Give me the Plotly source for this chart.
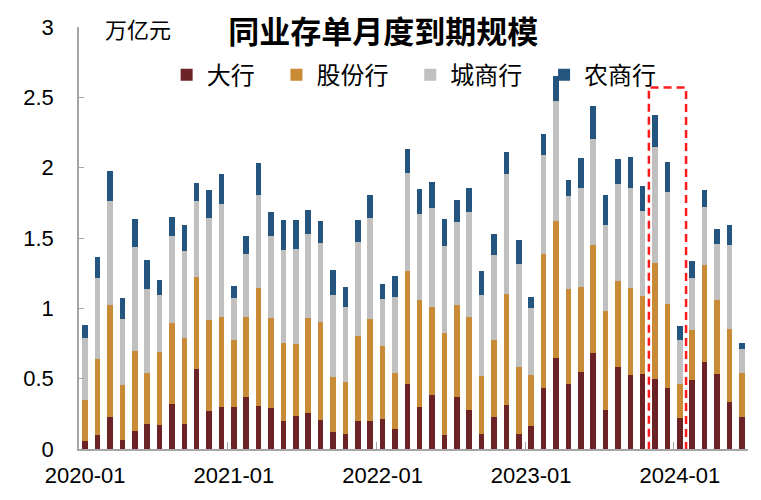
import numpy as np
import pandas as pd
import plotly.graph_objects as go

# categories: monthly, 2020-01 .. 2024-06
months = [p.strftime("%Y-%m") for p in pd.period_range("2020-01", "2024-06", freq="M")]

# 万亿元
big = [0.057, 0.100, 0.228, 0.064, 0.128, 0.181, 0.169, 0.323, 0.181, 0.572, 0.270, 0.297,
       0.297, 0.370, 0.309, 0.292, 0.202, 0.235, 0.256, 0.209, 0.119, 0.107, 0.199, 0.202,
       0.216, 0.142, 0.462, 0.297, 0.382, 0.097, 0.370, 0.275, 0.104, 0.228, 0.316, 0.104,
       0.166, 0.437, 0.650, 0.460, 0.546, 0.683, 0.280, 0.581, 0.526, 0.533, 0.500, 0.432,
       0.220, 0.493, 0.621, 0.531, 0.337, 0.228]
joint = [0.292, 0.540, 0.794, 0.389, 0.567, 0.360, 0.521, 0.576, 0.608, 0.651, 0.645, 0.644,
         0.481, 0.567, 0.836, 0.640, 0.555, 0.510, 0.678, 0.692, 0.393, 0.367, 0.605, 0.725,
         0.514, 0.401, 0.804, 0.761, 0.624, 0.728, 0.657, 0.662, 0.413, 0.550, 0.789, 0.477,
         0.363, 0.946, 0.972, 0.678, 0.604, 0.768, 0.701, 0.612, 0.617, 0.553, 0.823, 0.597,
         0.245, 0.353, 0.688, 0.527, 0.516, 0.313]
city = [0.443, 0.574, 0.742, 0.472, 0.740, 0.600, 0.408, 0.612, 0.622, 0.539, 0.726, 0.799,
        0.294, 0.450, 0.664, 0.579, 0.661, 0.675, 0.598, 0.564, 0.583, 0.532, 0.671, 0.712,
        0.337, 0.538, 0.693, 0.613, 0.706, 0.617, 0.590, 0.751, 0.578, 0.600, 0.851, 0.735,
        0.472, 0.704, 0.853, 0.664, 0.709, 0.752, 0.608, 0.692, 0.716, 0.604, 0.821, 0.799,
        0.313, 0.373, 0.410, 0.398, 0.594, 0.168]
rural = [0.090, 0.149, 0.211, 0.147, 0.197, 0.201, 0.102, 0.139, 0.182, 0.130, 0.197, 0.214,
         0.085, 0.126, 0.223, 0.172, 0.211, 0.209, 0.164, 0.159, 0.178, 0.149, 0.152, 0.170,
         0.109, 0.149, 0.173, 0.174, 0.183, 0.190, 0.152, 0.166, 0.171, 0.147, 0.152, 0.171,
         0.083, 0.151, 0.180, 0.109, 0.213, 0.234, 0.215, 0.178, 0.218, 0.178, 0.227, 0.213,
         0.095, 0.114, 0.123, 0.107, 0.142, 0.043]

series_names = ["大行", "股份行", "城商行", "农商行"]
series_values = [big, joint, city, rural]
colors = ["#6B2326", "#C98B36", "#C0C0C0", "#24557F"]

tick_months = ["2020-01", "2021-01", "2022-01", "2023-01", "2024-01"]
highlight = ["2023-11", "2024-01"]
highlight_top = 2.57

x = np.arange(len(months))
FONT = "Liberation Sans, Arial, Noto Sans CJK SC"
AXIS_GRAY = "#A6A6A6"
PAD = "\u2002\u2009"  # extra spacing between legend entries

fig = go.Figure()
for i, (name, vals, col) in enumerate(zip(series_names, series_values, colors)):
    label = name + (PAD if i < len(series_names) - 1 else "")
    fig.add_trace(go.Bar(x=x, y=vals, name=label, marker=dict(color=col, line=dict(width=0)),
                         width=0.45))

tickvals = [months.index(m) for m in tick_months]
minor_vals = [v - 0.5 for v in tickvals[1:]]

fig.update_layout(
    barmode="stack",
    width=761, height=500,
    margin=dict(l=71, r=21, t=19, b=59, autoexpand=False),
    paper_bgcolor="white", plot_bgcolor="white",
    font=dict(family=FONT, size=22, color="black"),
    title=dict(text="<b>同业存单月度到期规模</b>", x=0.493, xanchor="center",
               y=0.951, yanchor="middle", xref="container", yref="container",
               font=dict(family="Noto Sans CJK SC", size=31, color="black")),
    legend=dict(orientation="h", x=0.131, y=0.886, xanchor="left", yanchor="middle",
                bgcolor="rgba(0,0,0,0)", font=dict(family="Noto Sans CJK SC", size=24),
                traceorder="normal", itemclick=False),
    showlegend=True,
)
fig.update_xaxes(range=[-0.5, len(months) - 0.5], tickvals=tickvals,
                 ticktext=tick_months, ticks="", showline=True, linecolor=AXIS_GRAY,
                 linewidth=1.5, showgrid=False, zeroline=False, ticklabelstandoff=6,
                 automargin=False,
                 minor=dict(tickvals=minor_vals, ticks="inside", ticklen=7,
                            tickcolor=AXIS_GRAY, tickwidth=1.2, showgrid=False),
                 tickfont=dict(size=22))
fig.update_yaxes(range=[0, 3], tickvals=[0, 0.5, 1, 1.5, 2, 2.5, 3],
                 ticktext=["0", "0.5", "1", "1.5", "2", "2.5", "3"],
                 ticks="inside", ticklen=5, tickcolor=AXIS_GRAY, tickwidth=1.2,
                 showline=True, linecolor=AXIS_GRAY, linewidth=1.5, showgrid=False,
                 zeroline=False, ticklabelstandoff=19, automargin=False,
                 tickfont=dict(size=22))

fig.add_annotation(text="万亿元", xref="paper", yref="paper", x=0.036, y=0.9976,
                   xanchor="left", yanchor="middle", showarrow=False,
                   font=dict(family="Noto Sans CJK SC", size=22, color="black"))

h0, h1 = months.index(highlight[0]), months.index(highlight[1])
fig.add_shape(type="rect", xref="x", yref="y", x0=h0 - 0.5, x1=h1 + 0.5,
              y0=-0.02, y1=highlight_top, line=dict(color="#FF1A1A", width=2.5, dash="8px,5px"),
              fillcolor="rgba(0,0,0,0)")

fig.write_html("out.html")
